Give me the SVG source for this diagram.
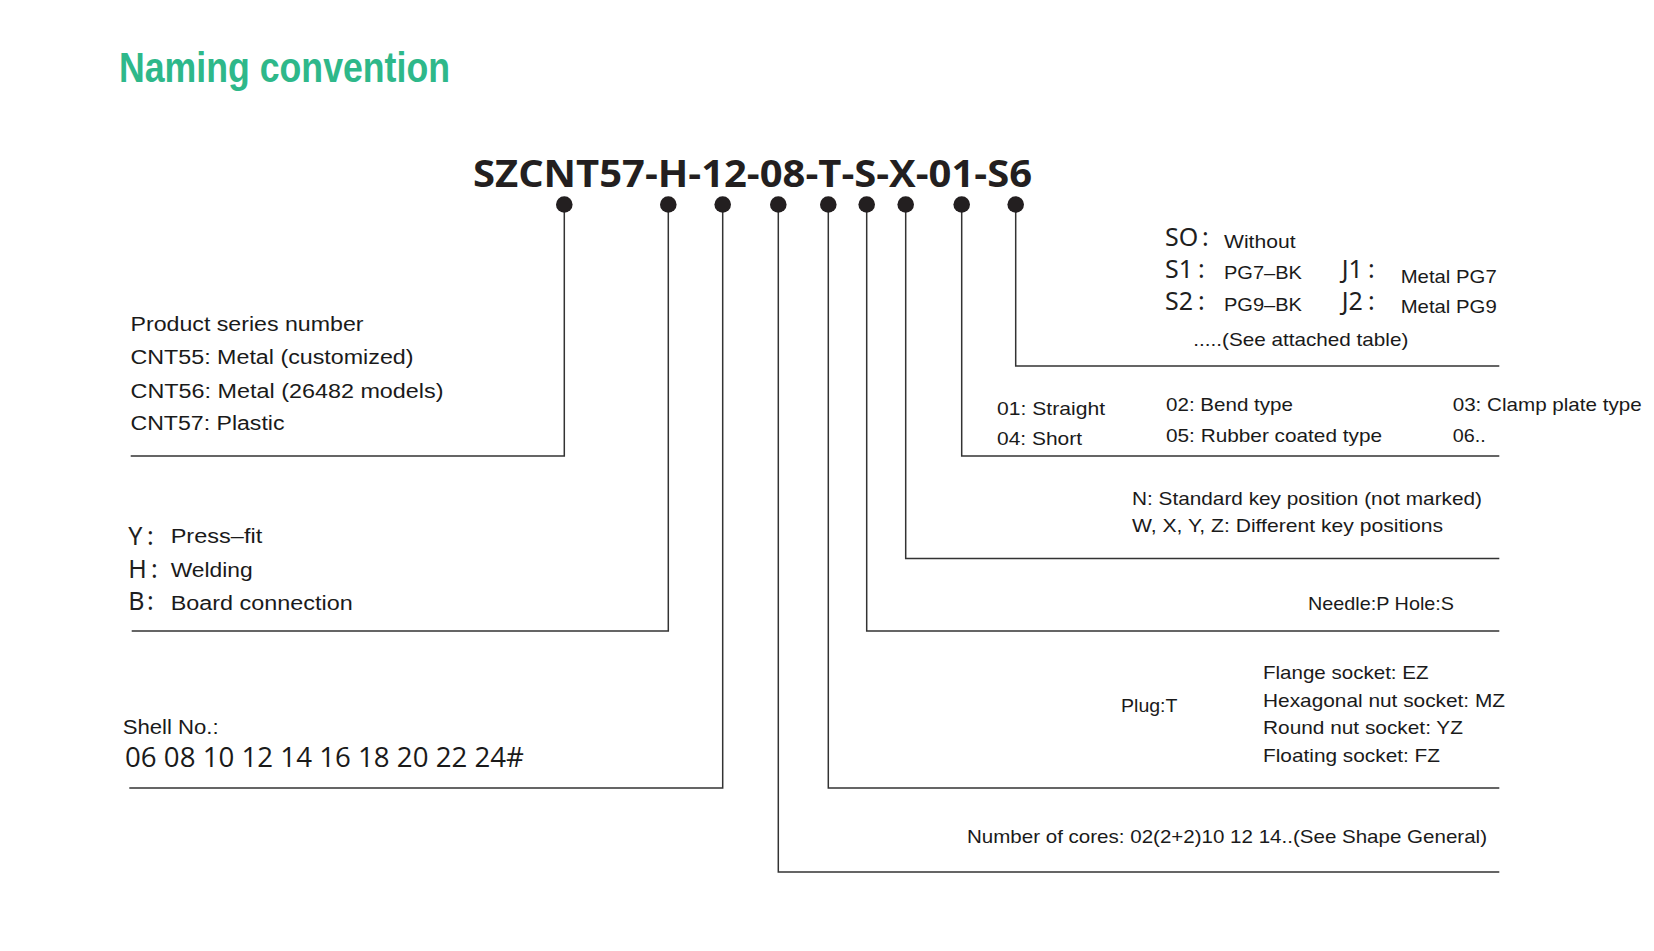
<svg xmlns="http://www.w3.org/2000/svg" width="1654" height="951" viewBox="0 0 1654 951">
<style>
  .t { font-family: "Liberation Sans", Arial, sans-serif; font-size: 20px; fill: #1a1a1a; }
  .s { font-size: 19px; }
  .big { font-family: "Noto Sans", "Liberation Sans", sans-serif; font-size: 25px; fill: #1f1f1f; }
  .conn { fill: none; stroke: #333333; stroke-width: 1.5; }
  .dot { fill: #231f20; }
</style>
<rect x="0" y="0" width="1654" height="951" fill="#ffffff"/>

<g id="title">
  <text x="119" y="82" font-family="Liberation Sans, Arial, sans-serif" font-weight="bold" font-size="42" fill="#2eb88a" textLength="331" lengthAdjust="spacingAndGlyphs">Naming convention</text>
</g>

<g id="code">
  <text x="473" y="187" font-family="Open Sans, Liberation Sans, sans-serif" font-weight="bold" font-size="37" fill="#231f20" textLength="559" lengthAdjust="spacingAndGlyphs">SZCNT57-H-12-08-T-S-X-01-S6</text>
</g>

<g id="connectors">
  <path class="conn" d="M564.3,204.5 V456 H130.7"/>
  <path class="conn" d="M668.3,204.5 V631 H131.7"/>
  <path class="conn" d="M722.7,204.5 V788 H129.3"/>
  <path class="conn" d="M778.3,204.5 V872 H1499.3"/>
  <path class="conn" d="M828.3,204.5 V788 H1499.3"/>
  <path class="conn" d="M866.7,204.5 V631 H1499.3"/>
  <path class="conn" d="M905.7,204.5 V558.5 H1499.3"/>
  <path class="conn" d="M961.7,204.5 V456 H1499.3"/>
  <path class="conn" d="M1015.7,204.5 V366 H1499.3"/>
  <circle class="dot" cx="564.3" cy="204.5" r="8.3"/>
  <circle class="dot" cx="668.3" cy="204.5" r="8.3"/>
  <circle class="dot" cx="722.7" cy="204.5" r="8.3"/>
  <circle class="dot" cx="778.3" cy="204.5" r="8.3"/>
  <circle class="dot" cx="828.3" cy="204.5" r="8.3"/>
  <circle class="dot" cx="866.7" cy="204.5" r="8.3"/>
  <circle class="dot" cx="905.7" cy="204.5" r="8.3"/>
  <circle class="dot" cx="961.7" cy="204.5" r="8.3"/>
  <circle class="dot" cx="1015.7" cy="204.5" r="8.3"/>
</g>

<g id="series">
  <text class="t" x="130.5" y="330.7" font-size="20.5" textLength="233" lengthAdjust="spacingAndGlyphs">Product series number</text>
  <text class="t" x="130.5" y="364" font-size="20.5" textLength="283" lengthAdjust="spacingAndGlyphs">CNT55: Metal (customized)</text>
  <text class="t" x="130.5" y="398" font-size="20.5" textLength="313" lengthAdjust="spacingAndGlyphs">CNT56: Metal (26482 models)</text>
  <text class="t" x="130.5" y="430" font-size="20.5" textLength="154" lengthAdjust="spacingAndGlyphs">CNT57: Plastic</text>
</g>

<g id="termination">
  <text class="big" x="128.3" y="545">Y<tspan x="147">:</tspan></text>
  <text class="t" x="170.7" y="543.3" font-size="21" textLength="91.5" lengthAdjust="spacingAndGlyphs">Press–fit</text>
  <text class="big" x="128.3" y="578.3">H<tspan x="151">:</tspan></text>
  <text class="t" x="170.7" y="577" font-size="21" textLength="82" lengthAdjust="spacingAndGlyphs">Welding</text>
  <text class="big" x="128.3" y="610">B<tspan x="147">:</tspan></text>
  <text class="t" x="170.7" y="610" font-size="21" textLength="182" lengthAdjust="spacingAndGlyphs">Board connection</text>
</g>

<g id="shell">
  <text class="t" x="122.7" y="734" font-size="20" textLength="96" lengthAdjust="spacingAndGlyphs">Shell No.:</text>
  <text x="125" y="766.7" font-family="Open Sans, Liberation Sans, sans-serif" font-size="27" fill="#1a1a1a" textLength="399" lengthAdjust="spacingAndGlyphs">06 08 10 12 14 16 18 20 22 24#</text>
</g>

<g id="cores">
  <text class="t s" x="967" y="843.3" textLength="520" lengthAdjust="spacingAndGlyphs">Number of cores: 02(2+2)10 12 14..(See Shape General)</text>
</g>

<g id="gender">
  <text class="t s" x="1121" y="711.7" textLength="56.5" lengthAdjust="spacingAndGlyphs">Plug:T</text>
  <text class="t s" x="1263" y="679" textLength="165.5" lengthAdjust="spacingAndGlyphs">Flange socket: EZ</text>
  <text class="t s" x="1263" y="706.7" textLength="242" lengthAdjust="spacingAndGlyphs">Hexagonal nut socket: MZ</text>
  <text class="t s" x="1263" y="734.3" textLength="200" lengthAdjust="spacingAndGlyphs">Round nut socket: YZ</text>
  <text class="t s" x="1263" y="761.7" textLength="177" lengthAdjust="spacingAndGlyphs">Floating socket: FZ</text>
</g>

<g id="contact">
  <text class="t s" x="1308" y="610" textLength="146" lengthAdjust="spacingAndGlyphs">Needle:P Hole:S</text>
</g>

<g id="key">
  <text class="t s" x="1132" y="504.5" textLength="350" lengthAdjust="spacingAndGlyphs">N: Standard key position (not marked)</text>
  <text class="t s" x="1132" y="531.5" textLength="311" lengthAdjust="spacingAndGlyphs">W, X, Y, Z: Different key positions</text>
</g>

<g id="shape">
  <text class="t s" x="997" y="415" textLength="108" lengthAdjust="spacingAndGlyphs">01: Straight</text>
  <text class="t s" x="997" y="444.5" textLength="85" lengthAdjust="spacingAndGlyphs">04: Short</text>
  <text class="t s" x="1166" y="411" textLength="127" lengthAdjust="spacingAndGlyphs">02: Bend type</text>
  <text class="t s" x="1166" y="442" textLength="216" lengthAdjust="spacingAndGlyphs">05: Rubber coated type</text>
  <text class="t s" x="1452.7" y="411" textLength="189" lengthAdjust="spacingAndGlyphs">03: Clamp plate type</text>
  <text class="t s" x="1452.7" y="442" textLength="33" lengthAdjust="spacingAndGlyphs">06..</text>
</g>

<g id="gland">
  <text class="big" x="1165" y="246">SO<tspan x="1202">:</tspan></text>
  <text class="t s" x="1224" y="248.3" textLength="71.5" lengthAdjust="spacingAndGlyphs">Without</text>
  <text class="big" x="1165" y="278.3">S1<tspan x="1198">:</tspan></text>
  <text class="t s" x="1224" y="279.3" textLength="78" lengthAdjust="spacingAndGlyphs">PG7–BK</text>
  <text class="big" x="1341.7" y="278.3">J1<tspan x="1368">:</tspan></text>
  <text class="t s" x="1400.7" y="283.3" textLength="96" lengthAdjust="spacingAndGlyphs">Metal PG7</text>
  <text class="big" x="1165" y="310">S2<tspan x="1198">:</tspan></text>
  <text class="t s" x="1224" y="311" textLength="78" lengthAdjust="spacingAndGlyphs">PG9–BK</text>
  <text class="big" x="1341.7" y="310">J2<tspan x="1368">:</tspan></text>
  <text class="t s" x="1400.7" y="313" textLength="96" lengthAdjust="spacingAndGlyphs">Metal PG9</text>
  <text class="t s" x="1193.3" y="346" textLength="215" lengthAdjust="spacingAndGlyphs">.....(See attached table)</text>
</g>
</svg>
